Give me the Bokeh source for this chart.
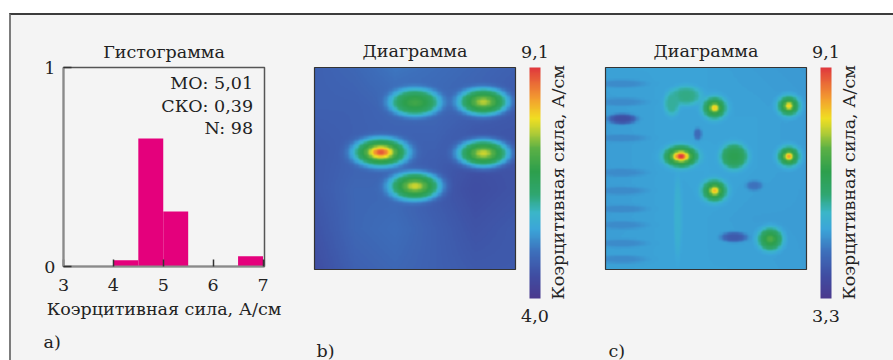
import numpy as np
from bokeh.plotting import figure
from bokeh.layouts import row, column
from bokeh.models import (Range1d, FixedTicker, LinearColorMapper, ColumnDataSource,
                          ColorBar, Spacer, Title)
from bokeh.embed import file_html
from bokeh.resources import INLINE
from bokeh.core.properties import value

FONT = "DejaVu Serif"
FS = "17.5px"
TXT = "#222222"
BG = "#f4f4f4"

# ---------------- data ----------------
# a) histogram (relative share per bin)
bin_left = [4.0, 4.5, 5.0, 6.5]
bin_right = [4.5, 5.0, 5.5, 7.0]
bin_share = [0.031, 0.643, 0.276, 0.051]
x_ticks = [3, 4, 5, 6, 7]
y_ticks = [0, 1]
stats_labels = ["МО: 5,01", "СКО: 0,39", "N: 98"]
axis_title = "Коэрцитивная сила, А/см"
hist_title = "Гистограмма"
map_title = "Диаграмма"
panel_letters = ["a)", "b)", "c)"]

# b) map: coarse background (rows top->bottom), spots (u, v from top-left of the map)
b_low, b_high = 4.0, 9.1
b_bg = [
    [4.8, 4.9, 5.1, 5.0, 4.9, 4.8],
    [4.8, 4.8, 4.9, 4.9, 4.8, 4.7],
    [4.7, 4.8, 4.8, 4.8, 4.6, 4.6],
    [4.7, 4.9, 4.9, 4.7, 4.5, 4.6],
    [4.6, 4.9, 5.0, 4.8, 4.6, 4.7],
    [4.5, 4.8, 4.9, 4.8, 4.7, 4.7],
]
b_u = [0.50, 0.84, 0.33, 0.84, 0.50]
b_v = [0.173, 0.17, 0.42, 0.425, 0.588]
b_ru = [0.13, 0.13, 0.145, 0.135, 0.135]
b_rv = [0.07, 0.07, 0.075, 0.071, 0.073]
b_plateau = [6.7, 6.8, 6.9, 6.8, 6.8]
b_peak = [7.0, 7.7, 8.9, 7.8, 7.8]

# c) map
c_low, c_high = 3.3, 9.1
c_bg = [
    [5.0, 5.0, 5.0, 4.95, 4.9],
    [4.95, 5.0, 5.0, 5.0, 4.95],
    [4.95, 5.0, 5.05, 5.0, 4.95],
    [4.95, 5.0, 5.0, 4.95, 4.95],
    [5.0, 5.0, 5.0, 5.0, 4.95],
]
c_u = [0.542, 0.912, 0.375, 0.912, 0.542, 0.82, 0.64, 0.40, 0.33,
       0.083, 0.64, 0.74, 0.46,
       0.08, 0.08, 0.08, 0.08, 0.08, 0.08, 0.08, 0.08, 0.08,
       0.36]
c_v = [0.20, 0.19, 0.44, 0.44, 0.61, 0.85, 0.44, 0.14, 0.18,
       0.255, 0.84, 0.585, 0.33,
       0.08, 0.17, 0.35, 0.52, 0.61, 0.70, 0.78, 0.87, 0.95,
       0.74]
c_ru = [0.065, 0.06, 0.09, 0.06, 0.068, 0.065, 0.07, 0.08, 0.04,
        0.07, 0.065, 0.04, 0.02,
        0.12, 0.12, 0.12, 0.12, 0.12, 0.12, 0.12, 0.12, 0.12,
        0.02]
c_rv = [0.06, 0.055, 0.058, 0.055, 0.06, 0.06, 0.065, 0.05, 0.06,
        0.025, 0.025, 0.025, 0.03,
        0.02, 0.02, 0.02, 0.02, 0.02, 0.02, 0.02, 0.02, 0.02,
        0.2]
c_plateau = [6.2, 6.2, 6.6, 6.2, 6.2, 6.3, 6.3, 5.8, 5.7,
             3.9, 4.1, 4.5, 4.4,
             4.75, 4.75, 4.75, 4.75, 4.75, 4.75, 4.75, 4.75, 4.75,
             5.3]
c_peak = [8.0, 8.0, 9.1, 8.3, 8.1, 6.9, 6.4, 5.8, 5.7,
          3.9, 4.1, 4.5, 4.4,
          4.75, 4.75, 4.75, 4.75, 4.75, 4.75, 4.75, 4.75, 4.75,
          5.3]

# ---------------- colour map ----------------
anchors = [
    (0.00, "#4b3a8e"), (0.10, "#3f4ea3"), (0.20, "#3d6fbb"), (0.30, "#3ba6d9"),
    (0.37, "#3bb6c9"), (0.45, "#2fa670"), (0.55, "#2d9f4c"), (0.65, "#5bb045"),
    (0.72, "#b4cd36"), (0.78, "#f0df22"), (0.87, "#f39a30"), (1.00, "#e0393d"),
]
pos = np.array([a[0] for a in anchors])
rgb = np.array([[int(a[1][i:i + 2], 16) for i in (1, 3, 5)] for a in anchors], float)
t = np.linspace(0, 1, 256)
palette = ["#%02x%02x%02x" % tuple(int(round(np.interp(tt, pos, rgb[:, k]))) for k in range(3)) for tt in t]


def build_field(bg_grid, us, vs, rus, rvs, plateaus, peaks, n=160):
    g = np.array(bg_grid, float)
    c = (np.arange(n) + 0.5) / n
    gx = np.linspace(0, 1, g.shape[1])
    gy = np.linspace(0, 1, g.shape[0])
    tmp = np.array([np.interp(c, gx, r) for r in g])
    F = np.array([np.interp(c, gy, tmp[:, j]) for j in range(n)]).T
    U, V = np.meshgrid(c, c)
    for u, v, ru, rv, pl, pk in zip(us, vs, rus, rvs, plateaus, peaks):
        d2 = ((U - u) / ru) ** 2 + ((V - v) / rv) ** 2
        S = np.exp(-d2 ** 2)
        F = F * (1 - S) + pl * S
        F = F + (pk - pl) * np.exp(-d2 * 6)
    return F[::-1]  # bottom row first for bokeh image


# ---------------- a) histogram ----------------
pa = figure(width=289, height=345, x_range=Range1d(3, 7.03), y_range=Range1d(0, 1),
            min_border_left=52, min_border_right=36, min_border_top=52, min_border_bottom=92,
            toolbar_location=None, output_backend="svg", frame_align=False,
            background_fill_color=BG, border_fill_color=BG)
pa.title.text = hist_title
pa.title.align = "center"
pa.title.text_font = FONT
pa.title.text_font_size = FS
pa.title.text_font_style = "normal"
pa.title.text_color = TXT
pa.title.standoff = 11

src = ColumnDataSource(dict(left=bin_left, right=bin_right, top=bin_share, bottom=[0] * len(bin_share)))
pa.quad(left="left", right="right", top="top", bottom="bottom", source=src,
        fill_color="#e4007c", line_color=None)
pa.grid.visible = False
pa.outline_line_color = "#555555"
pa.outline_line_width = 1.5
for ax in (pa.xaxis[0], pa.yaxis[0]):
    ax.axis_line_color = "#8a8a8a"
    ax.axis_line_width = 2
    ax.major_tick_out = 0
    ax.major_tick_line_color = "#333333"
    ax.major_tick_line_width = 1.5
    ax.minor_tick_line_color = None
    ax.major_label_text_font = FONT
    ax.major_label_text_font_size = FS
    ax.major_label_text_color = TXT
pa.xaxis.ticker = FixedTicker(ticks=x_ticks)
pa.yaxis.ticker = FixedTicker(ticks=y_ticks)
pa.xaxis.major_tick_in = 7
pa.yaxis.major_tick_in = 8
pa.xaxis.major_label_standoff = 12
pa.yaxis.major_label_standoff = 8
pa.xaxis.axis_label = axis_title
pa.xaxis.axis_label_text_font = FONT
pa.xaxis.axis_label_text_font_size = FS
pa.xaxis.axis_label_text_font_style = "normal"
pa.xaxis.axis_label_text_color = TXT
pa.xaxis.axis_label_standoff = 5

stat_src = ColumnDataSource(dict(x=[6.8] * 3, y=[0.92 - 0.113 * i for i in range(3)], t=stats_labels))
pa.text(x="x", y="y", text="t", source=stat_src, text_align="right", text_baseline="middle",
        text_font=value(FONT), text_font_size=FS, text_color=TXT)
pa.add_layout(Title(text=panel_letters[0], align="left", offset=-20, standoff=17,
                    text_font=FONT, text_font_size=FS, text_font_style="normal", text_color=TXT), "below")


# ---------------- b) and c) maps (frame = whole panel, pixel-like coordinates) ----------------
def map_panel(width, img_x, cb_x, field, low, high, letter, letter_x):
    p = figure(width=width, height=345, x_range=Range1d(0, width), y_range=Range1d(0, 345),
               x_axis_type=None, y_axis_type=None, min_border=0, frame_align=False,
               toolbar_location=None, output_backend="svg",
               background_fill_color=BG, border_fill_color=BG)
    p.grid.visible = False
    p.outline_line_color = None
    cm = LinearColorMapper(palette=palette, low=low, high=high)
    p.image(image=[field], x=img_x, y=91, dw=201, dh=202, color_mapper=cm)
    p.quad(left=[img_x], right=[img_x + 201], bottom=[91], top=[293],
           fill_color=None, line_color="#333333", line_width=1.2)
    cb = ColorBar(color_mapper=cm, width=11, height=231, padding=0, margin=0, location=(cb_x, 62),
                  ticker=FixedTicker(ticks=[]), major_tick_line_color=None, minor_tick_line_color=None,
                  bar_line_color=None, border_line_color=None, background_fill_color=None,
                  background_fill_alpha=0)
    p.add_layout(cb, "center")
    lab = ColumnDataSource(dict(x=[img_x + 100.5, cb_x + 5.5, cb_x + 5.5],
                                y=[310, 309, 45],
                                t=[map_title, ("%.1f" % high).replace(".", ","),
                                   ("%.1f" % low).replace(".", ",")]))
    p.text(x="x", y="y", text="t", source=lab, text_align="center", text_baseline="middle",
           text_font=value(FONT), text_font_size=FS, text_color=TXT)
    p.text(x=[cb_x + 28], y=[178], text=[axis_title], angle=np.pi / 2,
           text_align="center", text_baseline="middle",
           text_font=value(FONT), text_font_size=FS, text_color=TXT)
    p.text(x=[letter_x], y=[10], text=[letter], text_align="left", text_baseline="middle",
           text_font=value(FONT), text_font_size=FS, text_color=TXT)
    return p


Fb = build_field(b_bg, b_u, b_v, b_ru, b_rv, b_plateau, b_peak)
Fc = build_field(c_bg, c_u, c_v, c_ru, c_rv, c_plateau, c_peak)
pb = map_panel(290, 14, 229, Fb, b_low, b_high, panel_letters[1], 16)
pc = map_panel(303, 15, 230, Fc, c_low, c_high, panel_letters[2], 18)

panels = row(pa, pb, pc, styles={"border-top": "2px solid #3c3c3c", "border-left": "2px solid #7c7c7c",
                                 "background-color": BG})
layout = column(Spacer(width=893, height=13), row(Spacer(width=9, height=345), panels))

open("out.html", "w").write(file_html(layout, INLINE))
